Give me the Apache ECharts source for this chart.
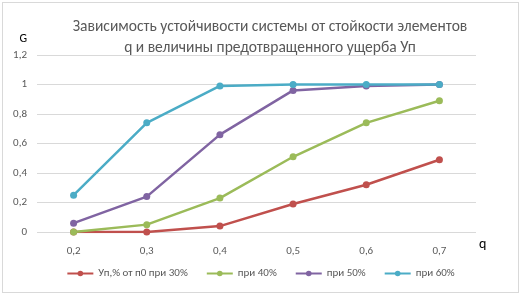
<!DOCTYPE html>
<html>
<head>
<meta charset="utf-8">
<script src="https://cdn.jsdelivr.net/npm/echarts@6/dist/echarts.min.js"></script>
<style>
  html, body { margin: 0; padding: 0; background: #fff; }
  #chart { position: absolute; left: 2px; top: 2px; width: 515px; height: 289px; border: 1px solid #d9d9d9; }
</style>
</head>
<body>
<div id="chart"></div>
<script>
const categories = ['0,2', '0,3', '0,4', '0,5', '0,6', '0,7']
const seriesNames = ['Уп,% от п0 при 30%', 'при 40%', 'при 50%', 'при 60%']
const s30 = [0, 0, 0.04, 0.19, 0.32, 0.49]
const s40 = [0, 0.05, 0.23, 0.51, 0.74, 0.89]
const s50 = [0.06, 0.24, 0.66, 0.96, 0.99, 1.0]
const s60 = [0.25, 0.74, 0.99, 1.0, 1.0, 1.0]
const colors = ['#C0504D', '#9BBB59', '#8064A2', '#4BACC6']

const chart = echarts.init(document.getElementById('chart'))
const font = 'Calibri, Carlito, "Liberation Sans", sans-serif'
const mk = (name, data, i) => ({
  name: name,
  type: 'line',
  data: data,
  symbol: 'circle',
  symbolSize: 7,
  lineStyle: { width: 2.5, color: colors[i] },
  itemStyle: { color: colors[i] }
})

chart.setOption({
  animation: false,
  title: {
    text: 'Зависимость устойчивости системы от стойкости элементов\nq и величины предотвращенного ущерба Уп',
    left: 262,
    textAlign: 'center',
    top: 9,
    textStyle: { color: '#595959', fontSize: 15.5, fontWeight: 'normal', fontFamily: font, lineHeight: 21 }
  },
  legend: {
    bottom: 8,
    left: 'center',
    itemWidth: 26,
    itemHeight: 7,
    itemGap: 18,
    textStyle: { color: '#595959', fontSize: 11, fontFamily: font }
  },
  grid: { left: 34, right: 42, top: 52, bottom: 60, containLabel: false },
  xAxis: {
    type: 'category',
    data: categories,
    boundaryGap: true,
    name: 'q',
    nameLocation: 'end',
    nameGap: 3,
    nameTextStyle: { color: '#000', fontSize: 14, fontFamily: font, verticalAlign: 'top', padding: [5, 0, 0, 0] },
    axisLine: { show: false },
    axisTick: { show: false },
    axisLabel: { color: '#595959', fontSize: 11, fontFamily: font, margin: 14 }
  },
  yAxis: {
    type: 'value',
    min: 0,
    max: 1.2,
    interval: 0.2,
    name: 'G',
    nameLocation: 'end',
    nameGap: 10,
    nameTextStyle: { color: '#000', fontSize: 12, fontFamily: font, align: 'right', padding: [0, 10, 0, 0] },
    axisLabel: {
      color: '#595959', fontSize: 11, fontFamily: font, margin: 10,
      formatter: v => String(Math.round(v * 10) / 10).replace('.', ',')
    },
    splitLine: { lineStyle: { color: '#d9d9d9' } }
  },
  series: [
    mk(seriesNames[0], s30, 0),
    mk(seriesNames[1], s40, 1),
    mk(seriesNames[2], s50, 2),
    mk(seriesNames[3], s60, 3)
  ]
})
</script>
</body>
</html>
